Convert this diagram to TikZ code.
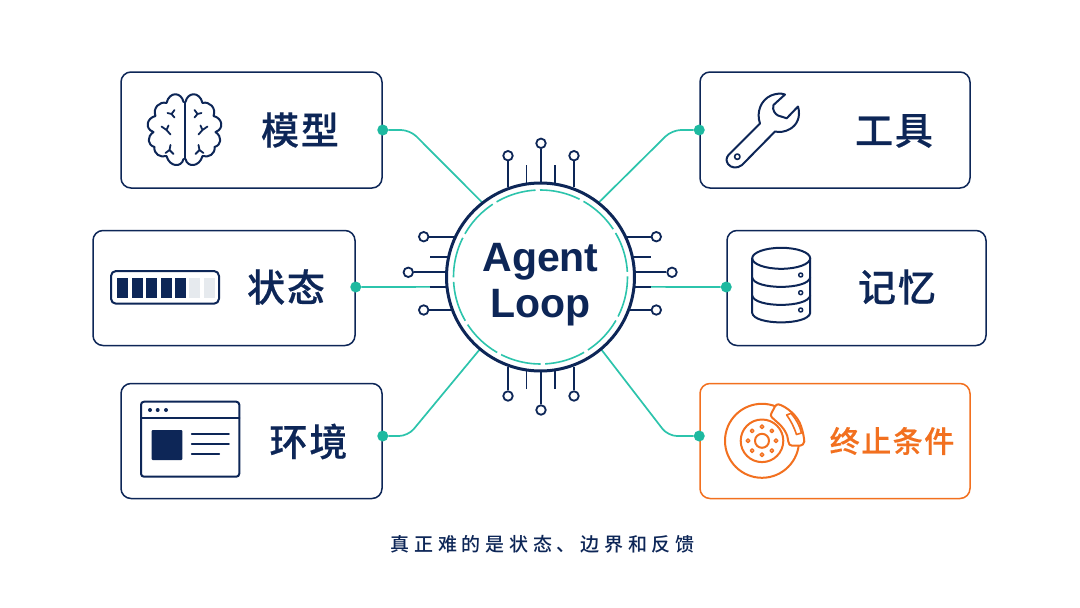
\documentclass[tikz,border=0pt]{standalone}
\usepackage{fontspec}
\usepackage{xcolor}
\setmainfont{Liberation Sans}
\newfontfamily\itemfont[LetterSpace=5,FakeBold=0.4]{Noto Sans CJK SC Medium}
\newfontfamily\notefont[LetterSpace=25]{Noto Sans CJK SC Medium}
\definecolor{ink}{HTML}{0D2657}
\definecolor{teal}{HTML}{2CC4AC}
\definecolor{dotteal}{HTML}{1DB9A0}
\definecolor{brake}{HTML}{F2701F}
\definecolor{pale}{HTML}{E6EAEE}
\tikzset{
  item/.style={draw=ink, line width=1.5pt, rounded corners=10pt, fill=white, minimum height=115pt, inner sep=0pt},
  itemlabel/.style={text=ink, font=\itemfont\fontsize{38}{42}\selectfont, inner sep=0pt},
  wire/.style={draw=teal, line width=1.7pt, rounded corners=9pt},
  dot/.style={circle, fill=dotteal, minimum size=11pt, inner sep=0pt},
  stub/.style={draw=ink, line width=2.2pt},
  pin/.style={circle, draw=ink, line width=1.8pt, fill=white, minimum size=9.5pt, inner sep=0pt},
  icon/.style={draw=ink, line width=2pt, line join=round, line cap=round},
}
\begin{document}
\begin{tikzpicture}[x=1pt, y=-1pt]
  \useasboundingbox[fill=white] (0,0) rectangle (1080,608);
  % boxes
  \node[item, minimum width=261pt, minimum height=116pt] (model) at (251.5,130) {};
  \node[item, minimum width=262pt] (state) at (224,288) {};
  \node[item, minimum width=261pt] (env) at (251.5,441) {};
  \node[item, minimum width=270pt, minimum height=116pt] (tool) at (835,130) {};
  \node[item, minimum width=259pt] (memory) at (856.5,288) {};
  \node[item, draw=brake, minimum width=270pt] (stop) at (835,441) {};
  \node[itemlabel] (lmodel) at (300,130) {模型};
  \node[itemlabel] (lstate) at (286,287) {状态};
  \node[itemlabel] (lenv) at (308.5,441.5) {环境};
  \node[itemlabel] (ltool) at (894,131) {工具};
  \node[itemlabel] (lmemory) at (897,287) {记忆};
  \node[itemlabel, text=brake, font=\itemfont\fontsize{30}{34}\selectfont] (lstop) at (892,441) {终止条件};
  \node[text=ink, font=\notefont\fontsize{19}{23}\selectfont, inner sep=0pt] (note) at (542.5,544) {真正难的是状态、边界和反馈};
  % hub and wires
  \node[circle, minimum size=188pt, inner sep=0pt] (hub) at (540.5,277) {};
  \node[dot] (dmodel) at (model.east) {};
  \node[dot] (dstate) at (state.east |- 0,287) {};
  \node[dot] (denv) at (env.east |- 0,436) {};
  \node[dot] (dtool) at (tool.west) {};
  \node[dot] (dmemory) at (memory.west |- 0,287) {};
  \node[dot] (dstop) at (stop.west |- 0,436) {};
  \coordinate (bmodel) at (410,130);
  \coordinate (benv) at (408,436);
  \coordinate (btool) at (672,130);
  \coordinate (bstop) at (668,436);
  \draw[wire] (dmodel) -- (bmodel) -- (hub.128);
  \draw[wire] (denv) -- (benv) -- (hub.230);
  \draw[wire] (dtool) -- (btool) -- (hub.52);
  \draw[wire] (dstop) -- (bstop) -- (hub.310);
  \draw[wire] (dstate) -- (hub.186);
  \draw[wire] (dmemory) -- (hub.354);
  % pins round the hub
  \foreach \n/\x/\y/\ex/\ey in {a/508/155.7/508/187, b/541/143.3/541/183, c/574/155.7/574/187,
      d/508/396/508/367, e/541/410/541/371, f/574/396/574/367,
      g/423.7/236.7/456/236.7, h/408.3/272.3/447/272.3, i/423.7/310/453/310,
      j/656.3/236.7/625/236.7, k/672/272.3/634/272.3, l/656.3/310/628/310} {
    \node[pin] (p\n) at (\x,\y) {};
    \coordinate (q\n) at (\ex,\ey);
    \draw[stub] (p\n) -- (q\n);
  }
  \foreach \n/\x/\y/\ex/\ey in {a/526.5/165/526.5/184, b/555/165/555/184,
      c/526.5/389/526.5/371, d/555/389/555/371,
      e/430/257.3/449/257.3, f/430/287/448/287,
      g/650.5/257.3/632/257.3, h/650.5/287/633/287} {
    \coordinate (s\n) at (\x,\y);
    \coordinate (r\n) at (\ex,\ey);
    \draw[stub, line width=1.9pt] (s\n) -- (r\n);
  }
  \draw[ink, line width=3pt, fill=white] (hub.center) circle (94);
  \draw[teal, line width=1.6pt, dash pattern=on 41pt off 4.5pt] (hub.center) circle (87);
  \node[text=ink, align=center, inner sep=0pt, font=\bfseries\fontsize{41}{46.5}\selectfont] (title) at (540.5,284.5) {Agent\\Loop};
  % brain
  \begin{scope}[shift={(184.5,130)}]
    \foreach \s in {1,-1} {
      \begin{scope}[xscale=\s]
        \draw[icon] (1,-28) .. controls (3,-38) and (15,-39) .. (18,-27)
          .. controls (25,-29) and (32,-22) .. (29,-14)
          .. controls (38,-12) and (40,-1) .. (31,2)
          .. controls (38,7) and (37,15) .. (30,17)
          .. controls (31,24) and (24,28) .. (18,26)
          .. controls (15,37) and (3,38) .. (1,29);
        \draw[icon, line width=1.8pt] (10,-20) -- (13,-16) -- (17,-17) (13,-16) -- (10,-12.5)
          (14,4.5) -- (18,0) -- (23,-3.5) (18,0) -- (16,-4.5)
          (11,24) -- (15,20) -- (19,23) (15,20) -- (14,15);
      \end{scope}
    }
    \draw[icon] (0,-28) -- (0,29);
  \end{scope}
  % battery
  \draw[icon, rounded corners=5pt] (111,271) rectangle (219,303.7);
  \foreach \i in {0,...,4} \fill[ink] (117.3+\i*14.4,277.7) rectangle (128.3+\i*14.4,297.7);
  \foreach \i in {5,6} \fill[pale] (117.3+\i*14.4,277.7) rectangle (128.3+\i*14.4,297.7);
  % window
  \draw[icon, rounded corners=3pt] (141,401.7) rectangle (239.3,476.7);
  \draw[icon] (141,417.7) -- (239.3,417.7);
  \foreach \x in {150,157.7,166} \fill[ink] (\x,410) circle (2);
  \fill[ink, rounded corners=1pt] (151.7,430) rectangle (182.3,460);
  \draw[icon, line width=1.7pt] (191.7,434) -- (229,434) (191.7,444) -- (229,444) (191.7,454) -- (219.3,454);
  % wrench
  \draw[icon] (728.5,155) -- (760,123.5) .. controls (756,112) and (761,100) .. (771,95.5)
    .. controls (776,93.5) and (781,93) .. (785,94.5) -- (773.5,105) .. controls (772,110) and (775,114) .. (778,115.5)
    -- (786.7,118.3) -- (798,106.5) .. controls (801,117) and (797,125) .. (790,129)
    .. controls (785,132) and (779,132.5) .. (775,131.5) -- (742,165)
    .. controls (737,169) and (731,168) .. (728,164) .. controls (726,161) and (726,158) .. (728.5,155) -- cycle;
  \draw[icon, line width=1.6pt] (737.3,156.7) circle (2.7);
  % database
  \draw[icon] (781.2,258.3) ellipse [x radius=29, y radius=10.5];
  \draw[icon] (752.2,258.3) -- (752.2,313) .. controls (754,325.5) and (808,325.5) .. (810.2,313) -- (810.2,258.3);
  \draw[icon] (752.2,277.5) .. controls (754,290) and (808,290) .. (810.2,277.5);
  \draw[icon] (752.2,295.5) .. controls (754,308) and (808,308) .. (810.2,295.5);
  \foreach \y in {275,292.7,310} \draw[icon, line width=1.5pt] (800.7,\y) circle (2);
  % brake disc
  \begin{scope}[shift={(762,440.8)}]
    \draw[icon, draw=brake] (0,0) circle (37);
    \draw[icon, draw=brake] (0,0) circle (21.3);
    \draw[icon, draw=brake] (0,0) circle (7);
    \foreach \a in {0,45,...,315} \draw[icon, draw=brake, line width=1.5pt] (\a:14) circle (1.8);
  \end{scope}
  \draw[icon, draw=brake, fill=white] (778.3,404.3) .. controls (786,406) and (798,416) .. (801,426)
    .. controls (803,432) and (804,437) .. (804.3,441.5) .. controls (804,444) and (802,445.7) .. (800,445.7)
    -- (792,445.7) .. controls (790,445.7) and (788.5,444) .. (788.3,441.5)
    .. controls (788,434) and (783,427) .. (777,422) -- (772,417.5)
    .. controls (770.5,416) and (770.5,414.5) .. (771.5,413) -- (775,406.5) .. controls (776,405) and (777,404.3) .. (778.3,404.3) -- cycle;
  \draw[icon, draw=brake, line width=1.6pt] (786.7,415) -- (791,413.3) .. controls (796,419) and (800,426) .. (801.5,433)
    -- (796.5,434.5) .. controls (794,427) and (791,421) .. (786.7,415) -- cycle;
\end{tikzpicture}
\end{document}
